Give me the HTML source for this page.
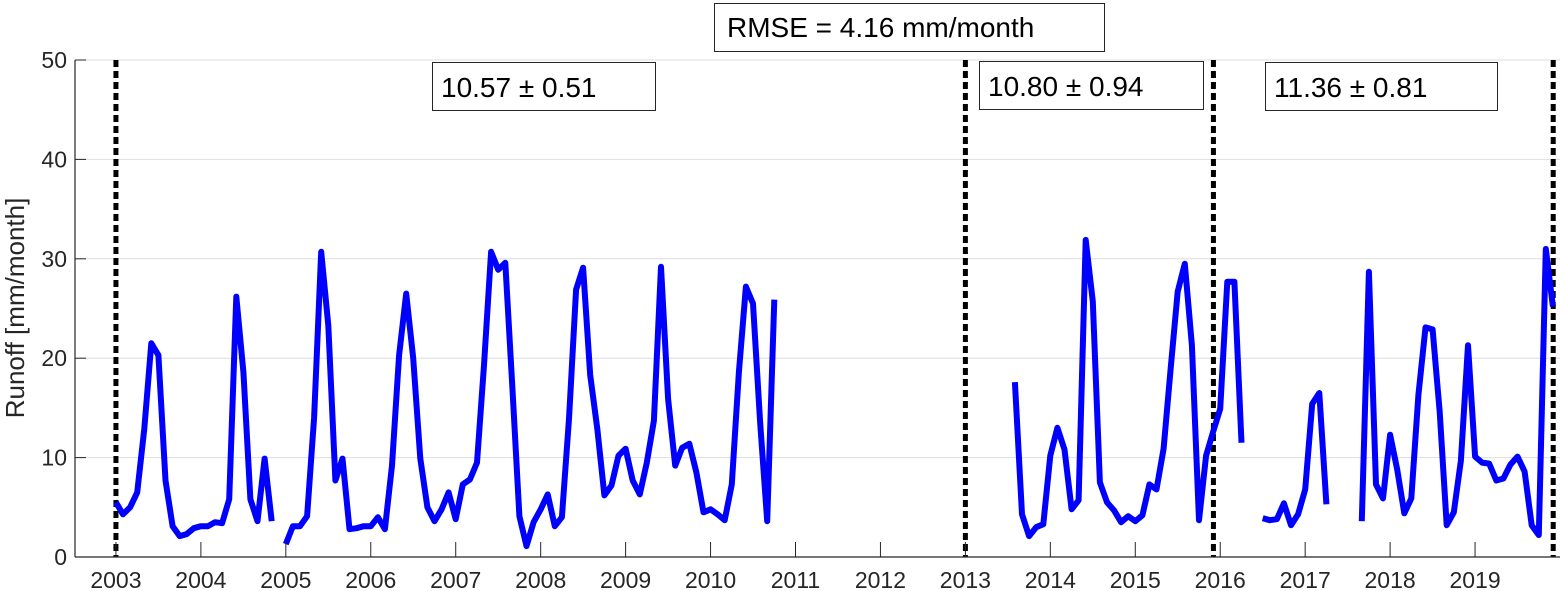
<!DOCTYPE html>
<html><head><meta charset="utf-8"><style>
html,body{margin:0;padding:0;background:#fff;}
svg{display:block;font-family:"Liberation Sans",Arial,sans-serif;}
</style></head><body>
<svg id="chart" width="1562" height="591" viewBox="0 0 1562 591" xmlns="http://www.w3.org/2000/svg">
<g id="grid"></g>
<g id="vlines"></g>
<g id="series"></g>
<g id="axes"></g>
<text transform="translate(24,308) rotate(-90)" text-anchor="middle" font-size="26" fill="#262626">Runoff [mm/month]</text>
<g>
<rect x="714.5" y="3.5" width="390" height="48" fill="#fff" stroke="#262626" stroke-width="1"/>
<text x="727" y="37" font-size="28" fill="#000">RMSE = 4.16 mm/month</text></g>
<g>
<rect x="432.5" y="62.5" width="223" height="48" fill="#fff" stroke="#262626" stroke-width="1"/>
<text x="441" y="97" font-size="28" fill="#000">10.57 ± 0.51</text></g>
<g>
<rect x="979.5" y="61.5" width="224" height="48" fill="#fff" stroke="#262626" stroke-width="1"/>
<text x="988" y="96" font-size="28" fill="#000">10.80 ± 0.94</text></g>
<g>
<rect x="1265.5" y="62.5" width="232" height="48" fill="#fff" stroke="#262626" stroke-width="1"/>
<text x="1274" y="97" font-size="28" fill="#000">11.36 ± 0.81</text></g>
</svg>
<script>
const seg1Start = [2003, 1];
const seg1Values = [5.5,4.3,5.0,6.5,12.9,21.5,20.3,7.7,3.1,2.1,2.3,2.9, 3.1,3.1,3.5,3.4,5.8,26.2,18.6,5.8,3.6,9.9,3.6];
const seg2Start = [2005, 1];
const seg2Values = [1.3,3.1,3.1,4.1,14,30.7,23.3,7.7,9.9,2.8,2.9,3.1,
 3.1,4.0,2.8,9.2,20.3,26.5,20,9.9,5.0,3.6,4.8,6.5,
 3.8,7.3,7.8,9.5,19.3,30.7,28.9,29.6,17,4.1,1.1,3.5,
 4.8,6.3,3.1,4.0,13.9,26.9,29.1,18.3,12.9,6.2,7.2,10.2,
 10.9,7.7,6.3,9.5,13.7,29.2,15.9,9.2,11,11.4,8.5,4.5,
 4.8,4.3,3.7,7.3,18.6,27.2,25.5,13.6,3.6,25.9];
const seg3Start = [2013, 8];
const seg3Values = [17.6,4.3,2.1,3.0,3.3,
 10.2,13.0,10.8,4.8,5.7,31.9,25.7,7.5,5.5,4.7,3.5,4.1,
 3.6,4.2,7.3,6.8,10.9,19,26.7,29.5,21.3,3.7,10.2,12.6,
 14.9,27.7,27.7,11.5];
const seg4Start = [2016, 7];
const seg4Values = [3.9,3.7,3.8,5.4,3.2,4.3,6.8,15.4,16.5,5.3];
const seg5Start = [2017, 9];
const seg5Values = [3.6,28.7,7.3,5.9,12.3,
 8.8,4.4,5.9,16.3,23.1,22.9,14.6,3.2,4.5,9.7,21.3,10.1,
 9.5,9.4,7.7,7.9,9.3,10.1,8.6,3.2,2.2,31,25.2];
const dividerYears = [2003.0, 2013.0, 2015.92, 2019.92];
const xTickLabels = [2003,2004,2005,2006,2007,2008,2009,2010,2011,2012,2013,2014,2015,2016,2017,2018,2019];
const yTickLabels = [0,10,20,30,40,50];

const X0=75, X1=1560, Y0=557, Y1=60;
const xMin=2002.518, xMax=2020.0, yMin=0, yMax=50;
const xs = t => X0 + (t-xMin)/(xMax-xMin)*(X1-X0);
const ys = v => Y0 - (v-yMin)/(yMax-yMin)*(Y0-Y1);
const NS="http://www.w3.org/2000/svg";
function mk(tag, attrs, parent){const e=document.createElementNS(NS,tag);for(const k in attrs)e.setAttribute(k,attrs[k]);parent.appendChild(e);return e;}

const grid=document.getElementById('grid');
yTickLabels.forEach(v=>{ if(v>0){ const l=mk('line',{x1:X0,x2:X1,y1:ys(v),y2:ys(v),stroke:'#dedede','stroke-width':1},grid);

}});

const vl=document.getElementById('vlines');
dividerYears.forEach((y,i)=>{const l=mk('line',{x1:xs(y),x2:xs(y),y1:Y1,y2:Y0,stroke:'#000','stroke-width':5,'stroke-dasharray':'7,4'},vl);

});

const ser=document.getElementById('series');
[[seg1Start,seg1Values],[seg2Start,seg2Values],[seg3Start,seg3Values],[seg4Start,seg4Values],[seg5Start,seg5Values]].forEach(([st,vals],si)=>{
  const pts=vals.map((v,i)=>{const t=st[0]+(st[1]-1+i)/12;return xs(t).toFixed(1)+','+ys(v).toFixed(1);}).join(' ');
  const p=mk('polyline',{points:pts,fill:'none',stroke:'#0000ff','stroke-width':6,'stroke-linejoin':'round'},ser);
  
  
});

const ax=document.getElementById('axes');
const la=mk('line',{x1:X0,x2:X0,y1:Y1,y2:Y0,stroke:'#262626','stroke-width':1.2},ax);


const ba=mk('line',{x1:X0,x2:X1,y1:Y0,y2:Y0,stroke:'#262626','stroke-width':1.2},ax);


yTickLabels.forEach(v=>{
  const t=mk('line',{x1:X0,x2:X0+11,y1:ys(v),y2:ys(v),stroke:'#262626','stroke-width':1},ax);
  
  
  const tx=mk('text',{x:X0-8,y:ys(v)+8,'text-anchor':'end','font-size':23,fill:'#262626'},ax);
  tx.textContent=v;
  
  
});
xTickLabels.forEach(y=>{
  const x=xs(y);
  const t=mk('line',{x1:x,x2:x,y1:Y0,y2:Y0-15,stroke:'#262626','stroke-width':1},ax);
  
  
  const tx=mk('text',{x:x,y:Y0+31,'text-anchor':'middle','font-size':23,fill:'#262626'},ax);
  tx.textContent=y;
  
  
});
</script>
</body></html>
